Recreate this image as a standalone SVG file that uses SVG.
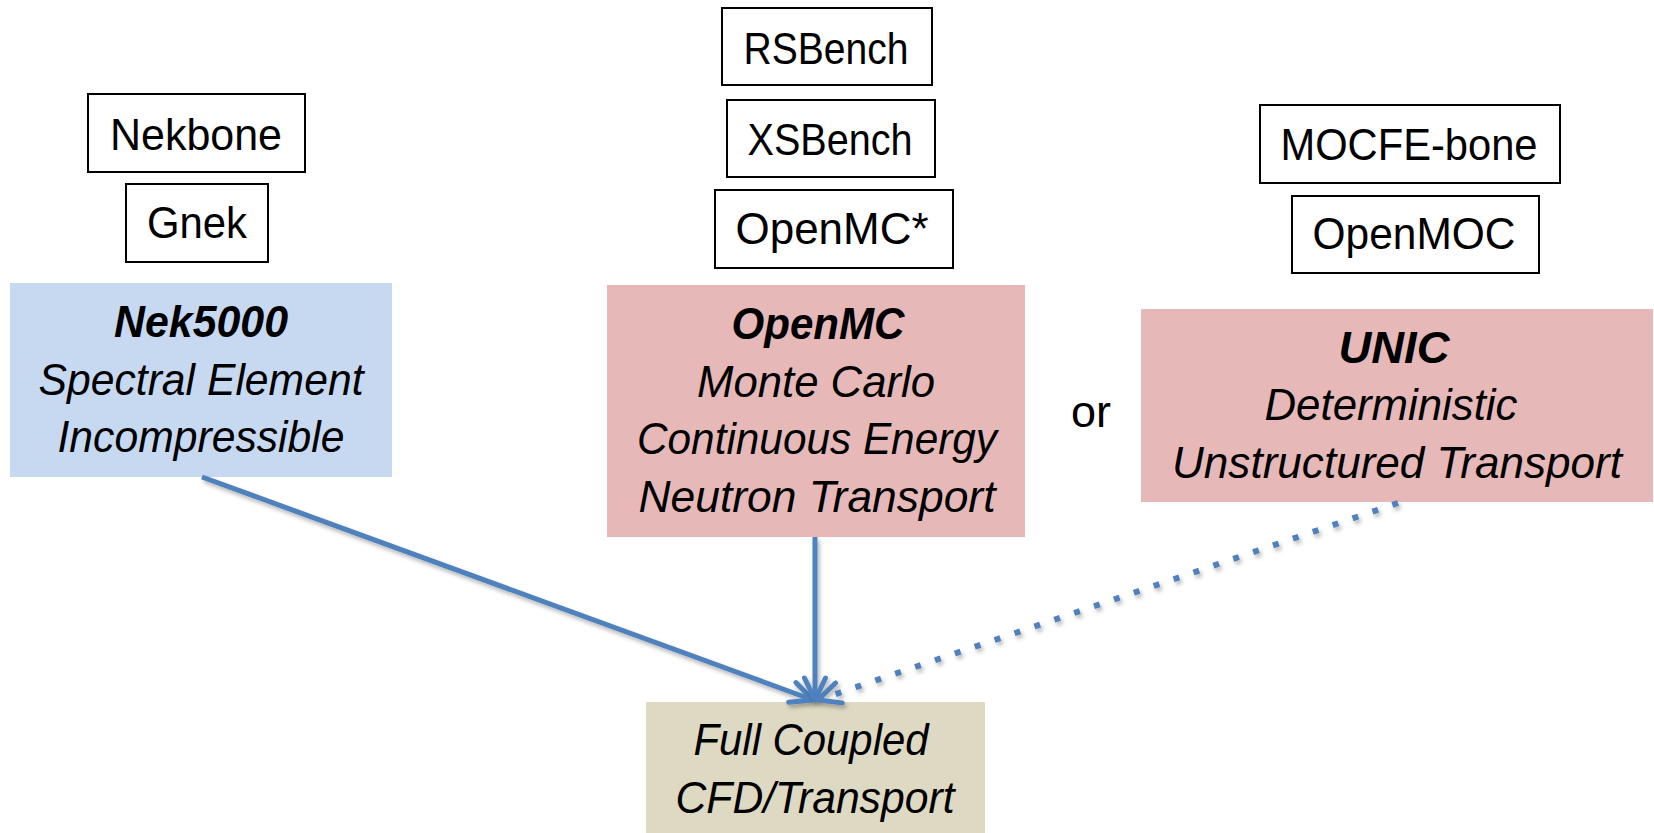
<svg xmlns="http://www.w3.org/2000/svg" width="1654" height="833" viewBox="0 0 1654 833">
<style>
text{font-family:"Liberation Sans",Arial,sans-serif;font-size:44px;fill:#000;text-anchor:middle}
.t{font-style:italic;font-weight:bold}
.i{font-style:italic}
.box{fill:#fff;stroke:#000;stroke-width:2}
.conn{fill:none;stroke:#4F81BD;stroke-width:5;filter:url(#sh)}
.dot{stroke-width:6;stroke-dasharray:6 15}
</style>
<defs>
<filter id="sh" filterUnits="userSpaceOnUse" x="0" y="0" width="1654" height="833">
<feDropShadow dx="2" dy="3" stdDeviation="2" flood-color="#000" flood-opacity="0.3"/>
</filter>
<marker id="ah" viewBox="0 0 28 26" refX="25" refY="13" markerWidth="28" markerHeight="26" markerUnits="userSpaceOnUse" orient="auto">
<path d="M3,2.5 L25,13 L3,23.5" fill="none" stroke="#4F81BD" stroke-width="5" stroke-linecap="round" stroke-linejoin="round"/>
</marker>
</defs>
<g id="nekbone"><rect class="box" x="88" y="94" width="217" height="78"/><text x="196" y="150" textLength="172" lengthAdjust="spacingAndGlyphs">Nekbone</text></g>
<g id="gnek"><rect class="box" x="126" y="184" width="142" height="78"/><text x="197" y="238" textLength="100" lengthAdjust="spacingAndGlyphs">Gnek</text></g>
<g id="nek5000"><rect x="10" y="283" width="382" height="194" fill="#C6D9F1"/>
<text class="t" x="201" y="337" textLength="174" lengthAdjust="spacingAndGlyphs">Nek5000</text>
<text class="i" x="201" y="395" textLength="325" lengthAdjust="spacingAndGlyphs">Spectral Element</text>
<text class="i" x="201" y="452" textLength="287" lengthAdjust="spacingAndGlyphs">Incompressible</text></g>
<g id="rsbench"><rect class="box" x="722" y="8" width="210" height="77"/><text x="826" y="64" textLength="165" lengthAdjust="spacingAndGlyphs">RSBench</text></g>
<g id="xsbench"><rect class="box" x="727" y="100" width="208" height="77"/><text x="830" y="155" textLength="165" lengthAdjust="spacingAndGlyphs">XSBench</text></g>
<g id="openmcstar"><rect class="box" x="715" y="190" width="238" height="78"/><text x="832" y="244" textLength="193" lengthAdjust="spacingAndGlyphs">OpenMC*</text></g>
<g id="openmc"><rect x="607" y="285" width="418" height="252" fill="#E6B9B8"/>
<text class="t" x="818" y="339" textLength="173" lengthAdjust="spacingAndGlyphs">OpenMC</text>
<text class="i" x="816" y="397" textLength="238" lengthAdjust="spacingAndGlyphs">Monte Carlo</text>
<text class="i" x="817" y="454" textLength="360" lengthAdjust="spacingAndGlyphs">Continuous Energy</text>
<text class="i" x="817" y="512" textLength="357" lengthAdjust="spacingAndGlyphs">Neutron Transport</text></g>
<g id="or"><text x="1091" y="427" textLength="40" lengthAdjust="spacingAndGlyphs">or</text></g>
<g id="mocfe"><rect class="box" x="1260" y="105" width="300" height="78"/><text x="1409" y="160" textLength="257" lengthAdjust="spacingAndGlyphs">MOCFE-bone</text></g>
<g id="openmoc"><rect class="box" x="1292" y="196" width="247" height="77"/><text x="1414" y="249" textLength="203" lengthAdjust="spacingAndGlyphs">OpenMOC</text></g>
<g id="unic"><rect x="1141" y="309" width="512" height="193" fill="#E6B9B8"/>
<text class="t" x="1394" y="363" textLength="111" lengthAdjust="spacingAndGlyphs">UNIC</text>
<text class="i" x="1391" y="420" textLength="253" lengthAdjust="spacingAndGlyphs">Deterministic</text>
<text class="i" x="1397" y="478" textLength="450" lengthAdjust="spacingAndGlyphs">Unstructured Transport</text></g>
<g id="coupled"><rect x="646" y="702" width="339" height="131" fill="#DDD9C3"/>
<text class="i" x="811" y="755" textLength="235" lengthAdjust="spacingAndGlyphs">Full Coupled</text>
<text class="i" x="815" y="813" textLength="279" lengthAdjust="spacingAndGlyphs">CFD/Transport</text></g>
<g id="connectors">
<line class="conn" x1="202" y1="477" x2="813" y2="700" marker-end="url(#ah)"/>
<line class="conn" x1="815" y1="537" x2="815" y2="700" marker-end="url(#ah)"/>
<line class="conn dot" x1="1398" y1="503" x2="818" y2="700" marker-end="url(#ah)"/>
</g>
</svg>
